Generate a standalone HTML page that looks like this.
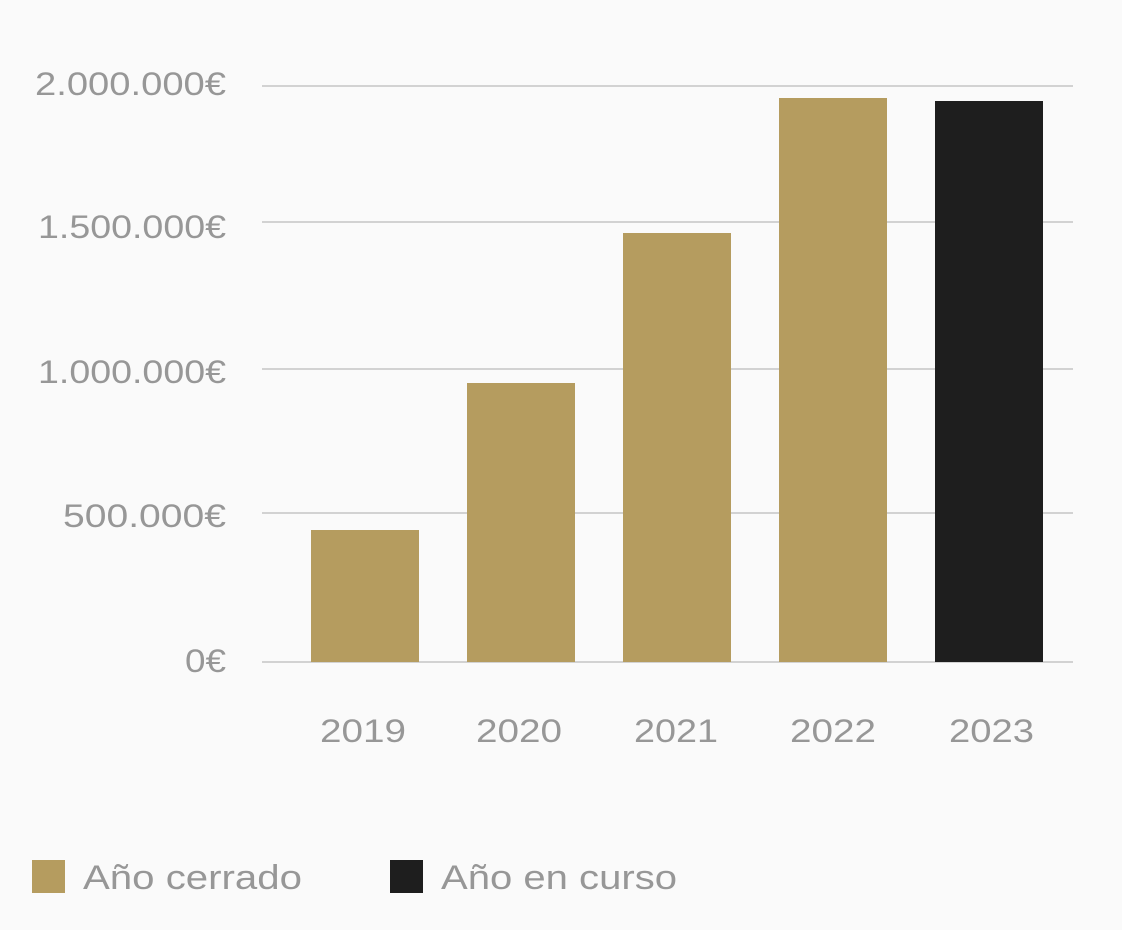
<!DOCTYPE html>
<html><head><meta charset="utf-8"><style>
html,body{margin:0;padding:0;background:#fafafa;}
svg{display:block;}
text{font-family:"Liberation Sans",sans-serif;fill:#979797;}
</style></head><body>
<svg width="1122" height="930" viewBox="0 0 1122 930">
<rect width="1122" height="930" fill="#fafafa"/>
<g stroke="#d2d2d2" stroke-width="2">
<line x1="262" y1="86" x2="1073" y2="86"/>
<line x1="262" y1="222" x2="1073" y2="222"/>
<line x1="262" y1="369" x2="1073" y2="369"/>
<line x1="262" y1="513" x2="1073" y2="513"/>
<line x1="262" y1="662" x2="1073" y2="662"/>
</g>
<g font-size="32">
<text x="35" y="95" textLength="191" lengthAdjust="spacingAndGlyphs">2.000.000€</text>
<text x="38" y="238" textLength="188" lengthAdjust="spacingAndGlyphs">1.500.000€</text>
<text x="38" y="383" textLength="188" lengthAdjust="spacingAndGlyphs">1.000.000€</text>
<text x="63" y="527" textLength="163" lengthAdjust="spacingAndGlyphs">500.000€</text>
<text x="185" y="672" textLength="41" lengthAdjust="spacingAndGlyphs">0€</text>
</g>
<g fill="#b59c5f">
<rect x="311" y="530" width="108" height="132"/>
<rect x="467" y="383" width="108" height="279"/>
<rect x="623" y="233" width="108" height="429"/>
<rect x="779" y="98" width="108" height="564"/>
</g>
<rect x="935" y="101" width="108" height="561" fill="#1e1e1e"/>
<g font-size="32">
<text x="320" y="742" textLength="86" lengthAdjust="spacingAndGlyphs">2019</text>
<text x="476" y="742" textLength="86" lengthAdjust="spacingAndGlyphs">2020</text>
<text x="634" y="742" textLength="84" lengthAdjust="spacingAndGlyphs">2021</text>
<text x="790" y="742" textLength="86" lengthAdjust="spacingAndGlyphs">2022</text>
<text x="949" y="742" textLength="85" lengthAdjust="spacingAndGlyphs">2023</text>
</g>
<rect x="32" y="860" width="33" height="33" fill="#b59c5f"/>
<text x="83" y="889" font-size="34" textLength="219" lengthAdjust="spacingAndGlyphs">Año cerrado</text>
<rect x="390" y="860" width="33" height="33" fill="#1e1e1e"/>
<text x="441" y="889" font-size="34" textLength="236" lengthAdjust="spacingAndGlyphs">Año en curso</text>
</svg>
</body></html>
